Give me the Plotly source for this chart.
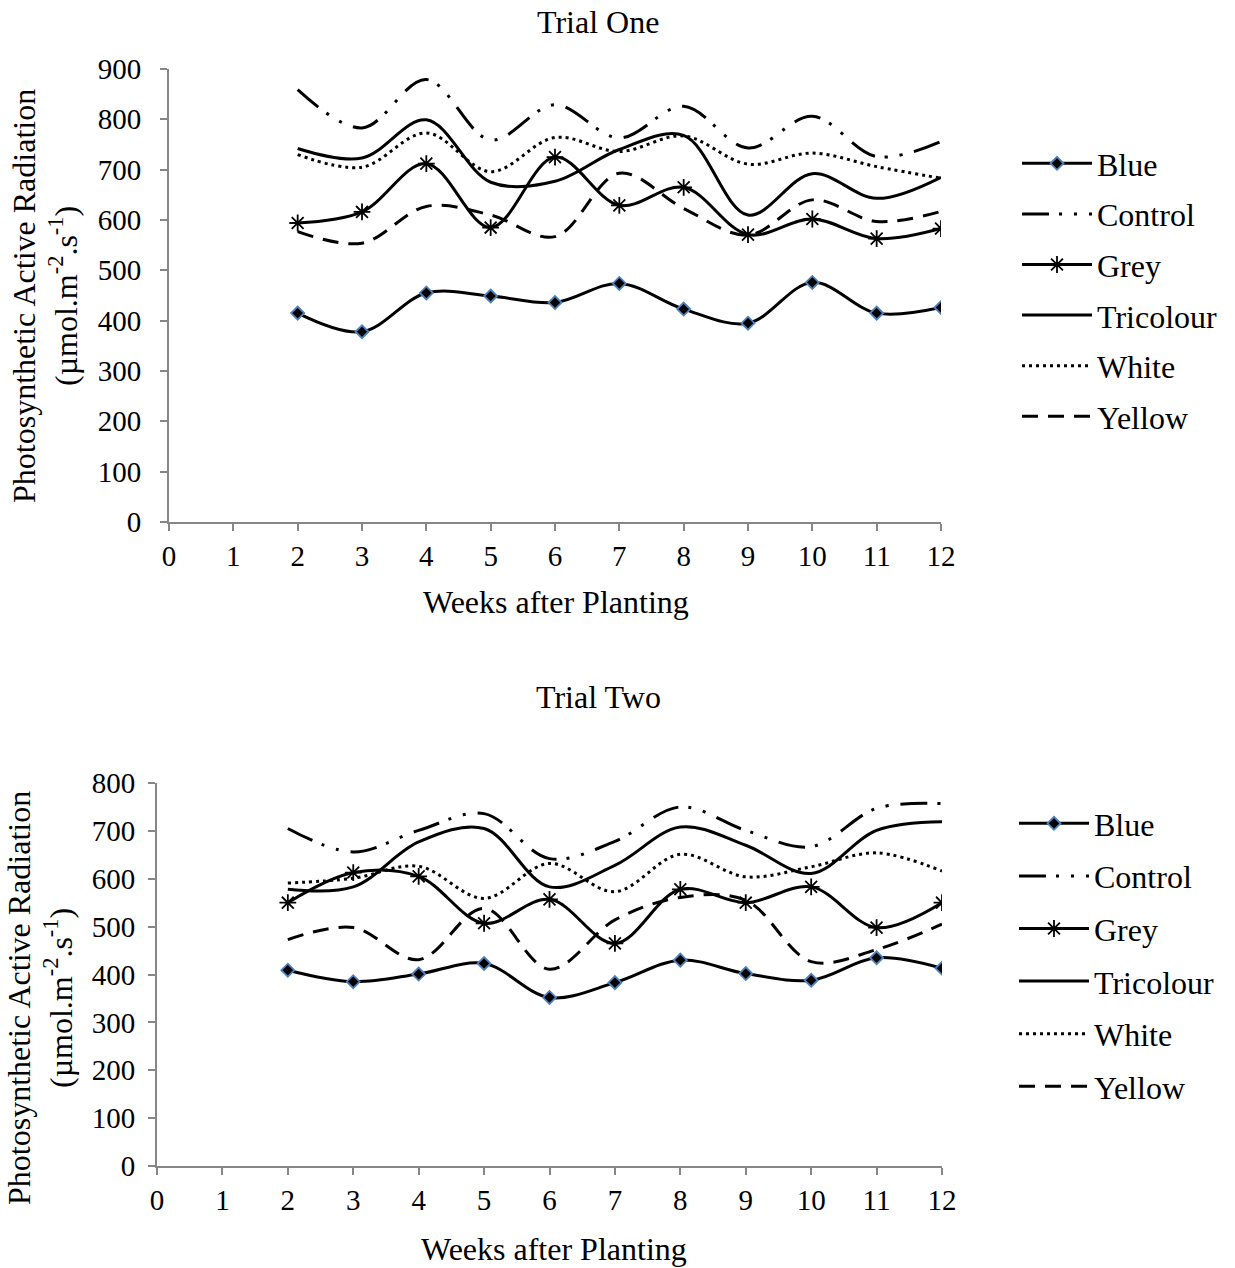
import plotly.graph_objects as go

# Weeks after planting
weeks = [2, 3, 4, 5, 6, 7, 8, 9, 10, 11, 12]
x_ticks = list(range(0, 13))

# Trial One PAR readings (µmol.m-2.s-1)
t1_blue = [415, 378, 455, 449, 436, 474, 423, 395, 476, 415, 426]
t1_control = [859, 783, 879, 759, 829, 763, 826, 743, 806, 726, 756]
t1_grey = [594, 616, 712, 585, 725, 629, 665, 571, 602, 563, 583]
t1_tricolour = [742, 723, 799, 675, 677, 740, 768, 610, 692, 643, 685]
t1_white = [730, 705, 773, 696, 764, 736, 767, 711, 733, 706, 683]
t1_yellow = [577, 554, 627, 610, 567, 693, 623, 570, 640, 597, 617]

# Trial Two PAR readings (µmol.m-2.s-1)
t2_blue = [409, 385, 401, 423, 352, 383, 430, 402, 388, 435, 413]
t2_control = [705, 656, 701, 736, 642, 678, 750, 701, 667, 747, 757]
t2_grey = [550, 613, 605, 507, 557, 465, 578, 550, 583, 498, 550]
t2_tricolour = [578, 583, 677, 705, 583, 628, 708, 670, 611, 701, 719]
t2_white = [591, 601, 626, 559, 632, 573, 651, 604, 625, 654, 616]
t2_yellow = [473, 498, 431, 538, 411, 514, 561, 555, 427, 452, 505]

names = ["Blue", "Control", "Grey", "Tricolour", "White", "Yellow"]
trial1 = [t1_blue, t1_control, t1_grey, t1_tricolour, t1_white, t1_yellow]
trial2 = [t2_blue, t2_control, t2_grey, t2_tricolour, t2_white, t2_yellow]

W, H = 1235, 1268
FONT = "Liberation Serif, Times New Roman, serif"
AXIS_GREY = "#868686"
LABEL_SIZE = 32
TICK_SIZE = 29

styles = {
    "Blue": dict(line=dict(color="black", width=3, dash="solid"),
                 mode="lines+markers",
                 marker=dict(symbol="diamond", size=10, color="black",
                             line=dict(color="#4f81bd", width=1.8))),
    "Control": dict(line=dict(color="black", width=3,
                              dash="27px,10px,3px,12px,3px,12px"),
                    mode="lines"),
    "Grey": dict(line=dict(color="black", width=3, dash="solid"),
                 mode="lines+markers",
                 marker=dict(symbol="asterisk-open", size=14, color="black",
                             line=dict(color="black", width=1.8))),
    "Tricolour": dict(line=dict(color="black", width=3, dash="solid"),
                      mode="lines"),
    "White": dict(line=dict(color="black", width=3, dash="3px,4px"),
                  mode="lines"),
    "Yellow": dict(line=dict(color="black", width=3, dash="16px,10px"),
                   mode="lines"),
}

fig = go.Figure()


def add_trial(series, xa, ya, legend, grp):
    for name, vals in zip(names, series):
        st = styles[name]
        line = dict(st["line"])
        line["shape"] = "spline"
        line["smoothing"] = 1.0
        kw = dict(x=weeks, y=vals, name=name, mode=st["mode"], line=line,
                  xaxis=xa, yaxis=ya, legend=legend,
                  legendgroup=grp + name)
        if "marker" in st:
            kw["marker"] = st["marker"]
        fig.add_trace(go.Scatter(**kw))


add_trial(trial1, "x", "y", "legend", "t1")
add_trial(trial2, "x2", "y2", "legend2", "t2")


def px_x(p):
    return p / W


def px_y(p):
    return 1 - p / H


axis_common = dict(
    showgrid=False, zeroline=False, showline=True,
    linecolor=AXIS_GREY, linewidth=2,
    ticks="outside", ticklen=7, tickwidth=2, tickcolor=AXIS_GREY,
    tickfont=dict(family=FONT, size=TICK_SIZE, color="black"),
    automargin=False,
)

legend_common = dict(
    font=dict(family=FONT, size=LABEL_SIZE, color="black"),
    bgcolor="rgba(0,0,0,0)", itemwidth=70,
    xanchor="left", yanchor="top", itemclick=False,
)

fig.update_layout(
    width=W, height=H,
    margin=dict(l=0, r=0, t=0, b=0, autoexpand=False),
    paper_bgcolor="white", plot_bgcolor="white",
    font=dict(family=FONT, size=LABEL_SIZE, color="black"),
    xaxis=dict(domain=[px_x(169), px_x(941)], range=[0, 12],
               tickvals=x_ticks, anchor="y", **axis_common),
    yaxis=dict(domain=[px_y(522), px_y(69)], range=[0, 900], dtick=100,
               anchor="x", ticklabelstandoff=13, **axis_common),
    xaxis2=dict(domain=[px_x(157), px_x(942)], range=[0, 12],
                tickvals=x_ticks, anchor="y2", **axis_common),
    yaxis2=dict(domain=[px_y(1166), px_y(783)], range=[0, 800], dtick=100,
                anchor="x2", ticklabelstandoff=7, **axis_common),
    legend=dict(x=px_x(1017), y=px_y(136), tracegroupgap=6,
                **legend_common),
    legend2=dict(x=px_x(1014), y=px_y(796), tracegroupgap=8,
                 **legend_common),
    showlegend=True,
)

ytitle = "Photosynthetic Active Radiation<br>(µmol.m<sup>-2</sup>.s<sup>-1</sup>)"
annotations = [
    dict(text="Trial One", x=px_x(598), y=px_y(22)),
    dict(text="Trial Two", x=px_x(598), y=px_y(697)),
    dict(text="Weeks after Planting", x=px_x(556), y=px_y(602)),
    dict(text="Weeks after Planting", x=px_x(554), y=px_y(1249)),
    dict(text=ytitle, x=px_x(45), y=px_y(296), textangle=-90),
    dict(text=ytitle, x=px_x(40), y=px_y(998), textangle=-90),
]
for a in annotations:
    fig.add_annotation(xref="paper", yref="paper", showarrow=False,
                       xanchor="center", yanchor="middle",
                       font=dict(family=FONT, size=LABEL_SIZE, color="black"),
                       **a)

fig.write_html("out.html")
